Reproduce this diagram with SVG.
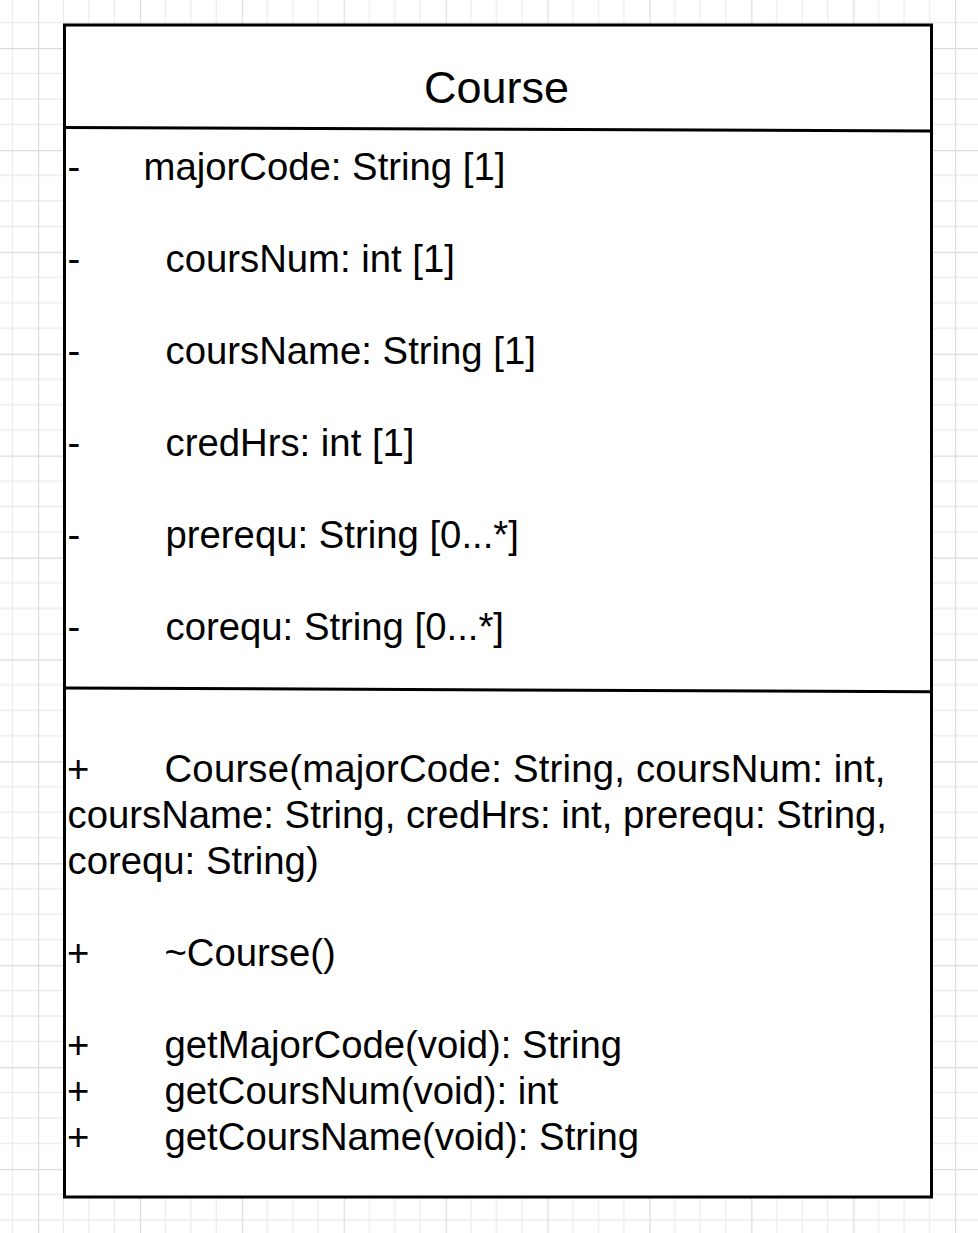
<svg xmlns="http://www.w3.org/2000/svg" width="978" height="1233" viewBox="0 0 978 1233">
  <style>
    .t { font-family: "Liberation Sans", Arial, sans-serif; font-size: 38.3px; fill: #000; }
    .title { font-family: "Liberation Sans", Arial, sans-serif; font-size: 45px; fill: #000; text-anchor: middle; }
    .box { fill: #fff; stroke: #000; stroke-width: 3; }
    .sep { stroke: #000; stroke-width: 3; fill: none; }
  </style>
  <defs>
    <pattern id="grid" patternUnits="userSpaceOnUse" x="38" y="48" width="101.9" height="101.9">
      <path d="M25.475 0V101.9M50.95 0V101.9M76.425 0V101.9M0 25.475H101.9M0 50.95H101.9M0 76.425H101.9" stroke="#ececec" stroke-width="1.3" fill="none"/>
      <path d="M0.5 0V101.9M0 0.5H101.9" stroke="#dadada" stroke-width="1.3" fill="none"/>
    </pattern>
  </defs>
  <rect x="0" y="0" width="978" height="1233" fill="#fff"/>
  <rect x="0" y="0" width="978" height="1233" fill="url(#grid)"/>

  <g id="connectors"></g>

  <g id="node-course">
    <rect class="box" x="64.5" y="25" width="867" height="1172"/>
    <line class="sep" x1="64.5" y1="127.5" x2="931.5" y2="131"/>
    <line class="sep" x1="64.5" y1="688" x2="931.5" y2="691.7"/>

    <text class="title" x="496.5" y="103">Course</text>

    <text class="t" x="67.5" y="180">-</text>
    <text class="t" x="143.5" y="180">majorCode: String [1]</text>
    <text class="t" x="67.5" y="272">-</text>
    <text class="t" x="165.5" y="272">coursNum: int [1]</text>
    <text class="t" x="67.5" y="364">-</text>
    <text class="t" x="165.5" y="364">coursName: String [1]</text>
    <text class="t" x="67.5" y="456">-</text>
    <text class="t" x="165.5" y="456">credHrs: int [1]</text>
    <text class="t" x="67.5" y="548">-</text>
    <text class="t" x="165.5" y="548">prerequ: String [0...*]</text>
    <text class="t" x="67.5" y="640">-</text>
    <text class="t" x="165.5" y="640">corequ: String [0...*]</text>

    <text class="t" x="67" y="782">+</text>
    <text class="t" x="164.5" y="782" textLength="721" lengthAdjust="spacing">Course(majorCode: String, coursNum: int,</text>
    <text class="t" x="67.5" y="828">coursName: String, credHrs: int, prerequ: String,</text>
    <text class="t" x="67.5" y="874">corequ: String)</text>
    <text class="t" x="67" y="966">+</text>
    <text class="t" x="164.5" y="966">~Course()</text>
    <text class="t" x="67" y="1058">+</text>
    <text class="t" x="164.5" y="1058">getMajorCode(void): String</text>
    <text class="t" x="67" y="1104">+</text>
    <text class="t" x="164.5" y="1104">getCoursNum(void): int</text>
    <text class="t" x="67" y="1150">+</text>
    <text class="t" x="164.5" y="1150">getCoursName(void): String</text>
  </g>
</svg>
